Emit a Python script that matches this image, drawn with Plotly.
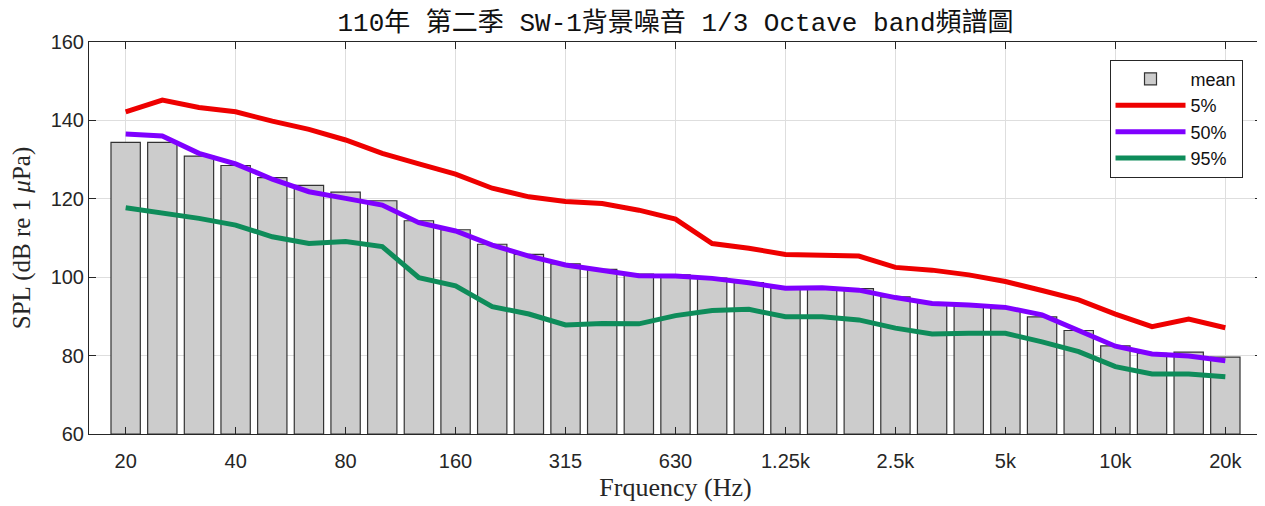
import plotly.graph_objects as go

bands = ["20", "25", "31.5", "40", "50", "63", "80", "100", "125", "160", "200", "250",
         "315", "400", "500", "630", "800", "1k", "1.25k", "1.6k", "2k", "2.5k", "3.15k",
         "4k", "5k", "6.3k", "8k", "10k", "12.5k", "16k", "20k"]

mean_spl = [134.4, 134.4, 130.9, 128.5, 125.4, 123.4, 121.7, 119.5, 114.4, 112.1, 108.4, 105.8,
            103.4, 102.0, 100.8, 100.6, 99.8, 98.6, 97.3, 97.2, 97.1, 95.0, 93.5,
            92.6, 92.0, 89.9, 86.4, 82.5, 80.6, 80.9, 79.6]
p5 = [142.2, 145.2, 143.3, 142.2, 139.8, 137.7, 135.0, 131.6, 128.9, 126.3, 122.7, 120.5,
      119.3, 118.8, 117.1, 114.8, 108.6, 107.4, 105.8, 105.7, 105.4, 102.5, 101.8,
      100.6, 98.9, 96.6, 94.2, 90.6, 87.4, 89.3, 87.1]
p50 = [136.5, 136.0, 131.6, 128.9, 125.0, 121.8, 120.1, 118.4, 113.9, 111.8, 108.2, 105.4,
       103.1, 101.8, 100.4, 100.3, 99.7, 98.6, 97.2, 97.3, 96.7, 94.8, 93.3,
       92.9, 92.3, 90.4, 86.5, 82.4, 80.4, 79.9, 78.7]
p95 = [117.7, 116.5, 115.0, 113.3, 110.3, 108.6, 109.1, 107.8, 99.9, 97.8, 92.5, 90.6,
       87.8, 88.2, 88.1, 90.2, 91.5, 91.8, 89.9, 89.9, 89.1, 87.0, 85.5,
       85.7, 85.7, 83.5, 81.0, 77.2, 75.3, 75.3, 74.6]

tick_idx = list(range(0, 31, 3))
tick_text = [bands[i] for i in tick_idx]
x = list(range(len(bands)))

fig = go.Figure()
fig.add_trace(go.Bar(x=x, y=[v - 60 for v in mean_spl], base=60, name="mean", width=0.8,
                     marker=dict(color="#cccccc", line=dict(color="#333333", width=1.2))))
fig.add_trace(go.Scatter(x=x, y=p5, mode="lines", name="5%",
                         line=dict(color="#ee0000", width=5)))
fig.add_trace(go.Scatter(x=x, y=p50, mode="lines", name="50%",
                         line=dict(color="#7f00ff", width=5)))
fig.add_trace(go.Scatter(x=x, y=p95, mode="lines", name="95%",
                         line=dict(color="#0e8c5a", width=5)))

axis_common = dict(showline=True, linecolor="#262626", linewidth=1, mirror="ticks",
                   ticks="inside", ticklen=7, tickcolor="#262626",
                   showgrid=True, gridcolor="#dedede", gridwidth=1, zeroline=False,
                   tickfont=dict(family="Liberation Sans, Arial", size=20, color="#262626"))

fig.update_layout(
    width=1257, height=498,
    margin=dict(l=81, r=3, t=34, b=72),
    plot_bgcolor="white", paper_bgcolor="white",
    title=dict(text="110年 第二季 SW-1背景噪音 1/3 Octave band頻譜圖",
               font=dict(family="Liberation Mono, Noto Sans CJK TC", size=26, color="#111111"),
               x=0.531, xanchor="center", y=0.972, yanchor="middle"),
    xaxis=dict(range=[-1, 31], tickmode="array", tickvals=tick_idx, ticktext=tick_text,
               ticklabelstandoff=9,
               title=dict(text="Frquency (Hz)", standoff=6,
                          font=dict(family="Liberation Serif, Times New Roman", size=26, color="#262626")),
               **axis_common),
    yaxis=dict(range=[60, 160], tickmode="array", tickvals=[60, 80, 100, 120, 140, 160],
               title=dict(text="SPL (dB re 1 <i>μ</i>Pa)", standoff=12,
                          font=dict(family="Liberation Serif, Times New Roman", size=25, color="#262626")),
               **axis_common),
    legend=dict(x=0.870, y=0.955, xanchor="left", yanchor="top",
                bgcolor="white", bordercolor="#262626", borderwidth=1,
                font=dict(family="Liberation Sans, Arial", size=18, color="#111111"),
                itemwidth=70, tracegroupgap=0),
    bargap=0.2,
    showlegend=True,
)

fig.write_html("out.html")
